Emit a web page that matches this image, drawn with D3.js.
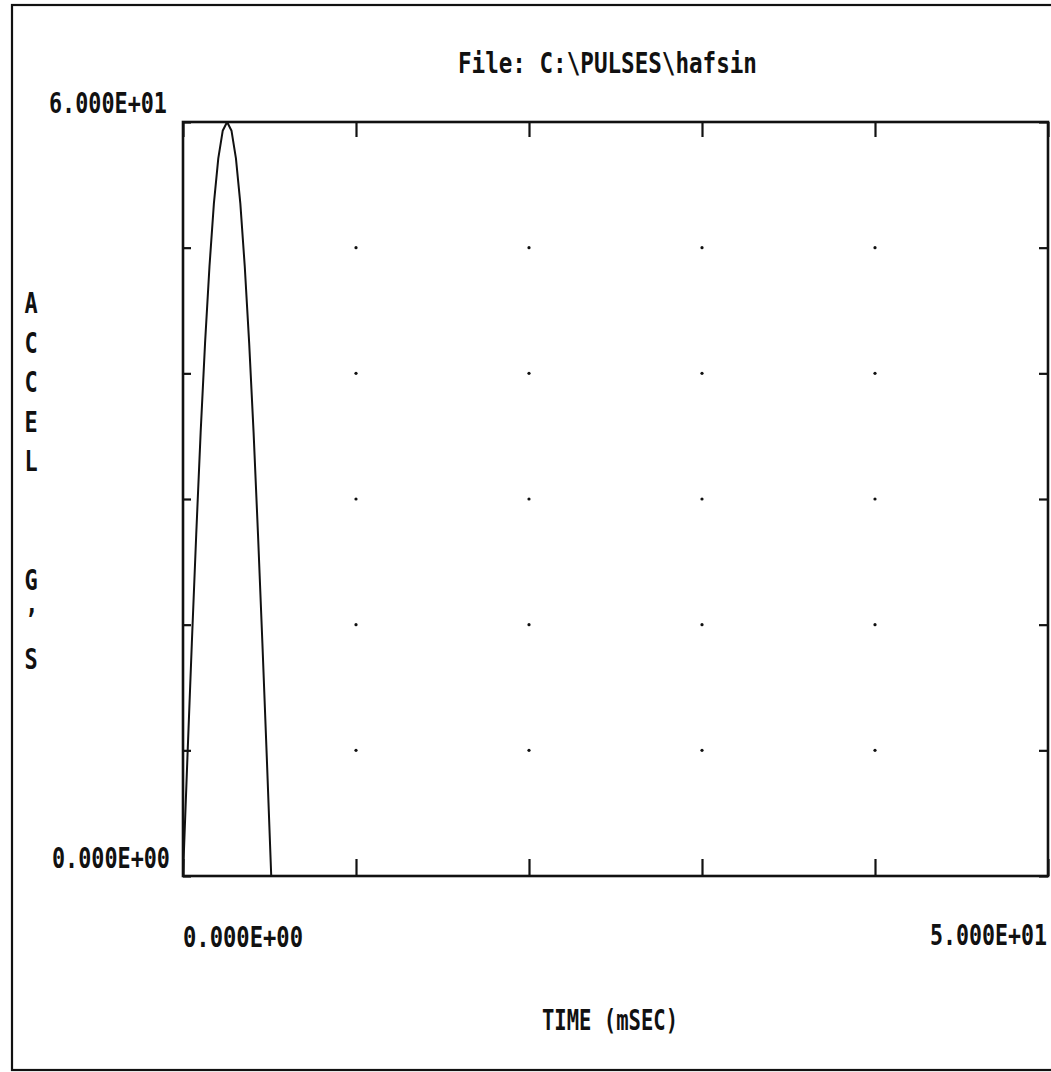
<!DOCTYPE html>
<html>
<head>
<meta charset="utf-8">
<script src="https://cdn.jsdelivr.net/npm/d3@7"></script>
<style>
  html, body { margin: 0; padding: 0; background: #fff; }
  svg { display: block; }
  .lbl { font-family: "DejaVu Sans Mono", "Liberation Mono", monospace; font-weight: bold; fill: #111; }
</style>
</head>
<body>
<svg id="chart" width="1051" height="1072"></svg>
<script>
// Half-sine shock pulse, acceleration (G's) against time (ms)
const timeMs = [0, 0.255, 0.51, 0.765, 1.02, 1.275, 1.53, 1.785, 2.04, 2.295, 2.55,
                2.805, 3.06, 3.315, 3.57, 3.825, 4.08, 4.335, 4.59, 4.845, 5.1, 50];
const accelG = [0, 9.4, 18.5, 27.2, 35.3, 42.4, 48.5, 53.5, 57.1, 59.3, 60.0,
                59.3, 57.1, 53.5, 48.5, 42.4, 35.3, 27.2, 18.5, 9.4, 0, 0];

const xDomain = [0, 50];
const yDomain = [0, 60];
const xTickValues = [0, 10, 20, 30, 40, 50];
const yTickValues = [0, 10, 20, 30, 40, 50, 60];
const xEndLabels = ["0.000E+00", "5.000E+01"];
const yEndLabels = ["0.000E+00", "6.000E+01"];
const titleText = "File: C:\\PULSES\\hafsin";
const xTitle = "TIME (mSEC)";
const yTitleChars = ["A", "C", "C", "E", "L", "", "", "G", "\u2019", "S"];

const svg = d3.select("#chart");
const plotL = 183, plotR = 1048, plotT = 122, plotB = 876;

const x = d3.scaleLinear().domain(xDomain).range([plotL, plotR]);
const y = d3.scaleLinear().domain(yDomain).range([plotB, plotT]);

// outer page frame
svg.append("rect")
  .attr("x", 12).attr("y", 5).attr("width", 1060).attr("height", 1065)
  .attr("fill", "none").attr("stroke", "#111").attr("stroke-width", 2.2);

// inward ticks on all four sides
function tickAxis(axis, tx, ty) {
  const g = svg.append("g").attr("transform", `translate(${tx},${ty})`).call(axis);
  g.select(".domain").remove();
  g.selectAll("text").remove();
  g.selectAll(".tick line").attr("stroke", "#111").attr("stroke-width", 2.2);
  return g;
}
tickAxis(d3.axisTop(x).tickValues(xTickValues).tickSizeInner(-15).tickSizeOuter(0), 0, plotT);
tickAxis(d3.axisBottom(x).tickValues(xTickValues).tickSizeInner(-17).tickSizeOuter(0), 0, plotB);
tickAxis(d3.axisLeft(y).tickValues(yTickValues).tickSizeInner(-8).tickSizeOuter(0), plotL, 0);
tickAxis(d3.axisRight(y).tickValues(yTickValues).tickSizeInner(-9).tickSizeOuter(0), plotR, 0);

// grid dots at interior tick crossings
const innerX = xTickValues.slice(1, -1);
const innerY = yTickValues.slice(1, -1);
const dots = [];
innerX.forEach(a => innerY.forEach(b => dots.push([a, b])));
svg.append("g").selectAll("circle").data(dots).join("circle")
  .attr("cx", d => x(d[0])).attr("cy", d => y(d[1]))
  .attr("r", 1.6).attr("fill", "#111");

// plot frame
svg.append("rect")
  .attr("x", plotL).attr("y", plotT).attr("width", plotR - plotL).attr("height", plotB - plotT)
  .attr("fill", "none").attr("stroke", "#111").attr("stroke-width", 2.6);

// pulse trace
const pts = timeMs.map((t, i) => [t, accelG[i]]);
svg.append("path")
  .datum(pts)
  .attr("fill", "none").attr("stroke", "#111").attr("stroke-width", 2)
  .attr("stroke-linejoin", "round")
  .attr("d", d3.line().x(d => x(d[0])).y(d => y(d[1])));

// tall, narrow terminal-style lettering: size the monospace font to the
// wanted advance width, then stretch it vertically to the cap height
const ADV = 0.602, CAP = 0.729, capHeight = 20.4;
function label(str, xPos, yBase, width) {
  const size = width / (str.length * ADV);
  const sy = capHeight / (CAP * size);
  return svg.append("text").attr("class", "lbl")
    .attr("transform", `translate(${xPos},${yBase}) scale(1,${sy.toFixed(3)})`)
    .attr("font-size", size.toFixed(2))
    .text(str);
}

// title
label(titleText, 458, 73, 299);

// y end labels
label(yEndLabels[1], 49, y(yDomain[1]) - 9, 118);
label(yEndLabels[0], 52, y(yDomain[0]) - 8, 118);

// x end labels
label(xEndLabels[0], x(xDomain[0]), 947, 120);
label(xEndLabels[1], x(xDomain[1]) - 118, 945, 117);

// x title
label(xTitle, 542, 1030, 136);

// y title, stacked letters
const rowSize = 13.2 / ADV;
const rowSy = capHeight / (CAP * rowSize);
svg.append("g").selectAll("text").data(yTitleChars).join("text")
  .attr("class", "lbl")
  .attr("text-anchor", "middle")
  .attr("font-size", rowSize.toFixed(2))
  .attr("transform", (d, i) => `translate(31,${(313 + 39.6 * i).toFixed(1)}) scale(1,${rowSy.toFixed(3)})`)
  .text(d => d);
</script>
</body>
</html>
